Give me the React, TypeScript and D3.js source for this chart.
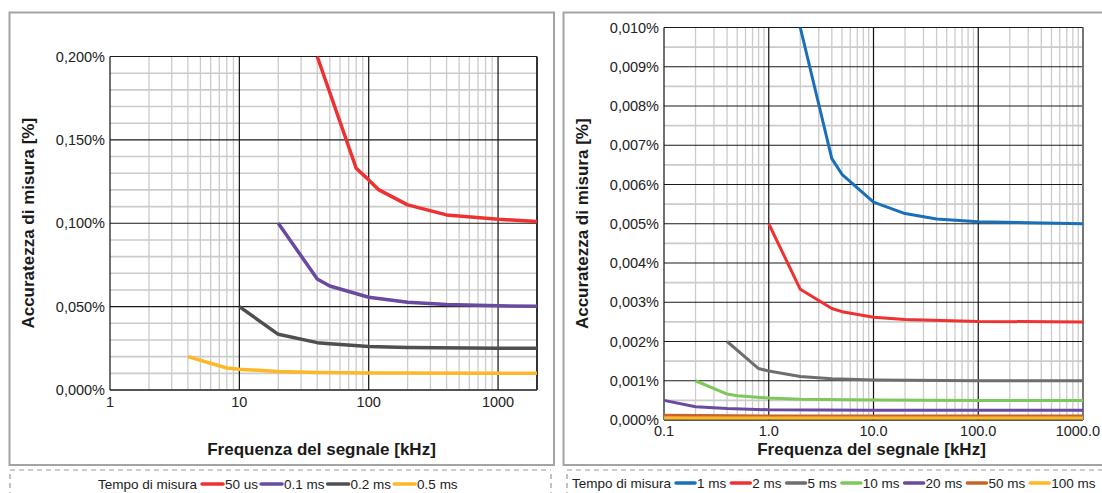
import React, { useEffect, useRef } from "react";
import * as d3 from "d3";

// ---------- DATA ----------
// Left chart: frequency [kHz] and accuracy [%]
const leftTicksX = [1, 10, 100, 1000];
const leftTickLabelsX = ["1", "10", "100", "1000"];
const leftTicksY = [0, 0.05, 0.1, 0.15, 0.2];

const f50us = [40, 80, 100, 120, 200, 400, 1000, 2000];
const v50us = [0.2, 0.133, 0.126, 0.12, 0.111, 0.105, 0.1024, 0.101];
const f01ms = [20, 40, 50, 100, 200, 400, 1000, 2000];
const v01ms = [0.1, 0.0666, 0.0624, 0.0556, 0.0526, 0.0513, 0.0505, 0.0502];
const f02ms = [10, 20, 40, 50, 100, 200, 1000, 2000];
const v02ms = [0.05, 0.0334, 0.0284, 0.0278, 0.0261, 0.0255, 0.0251, 0.025];
const f05ms = [4, 8, 10, 20, 40, 100, 1000, 2000];
const v05ms = [0.02, 0.0132, 0.0125, 0.0111, 0.0105, 0.0102, 0.01, 0.01];

const leftNames = ["50 us", "0.1 ms", "0.2 ms", "0.5 ms"];
const leftColors = ["#ee3131", "#6a4aa0", "#4d4f53", "#fdb827"];

// Right chart
const rightTicksX = [0.1, 1, 10, 100, 1000];
const rightTickLabelsX = ["0.1", "1.0", "10.0", "100.0", "1000.0"];
const rightTicksY = [0, 0.001, 0.002, 0.003, 0.004, 0.005, 0.006, 0.007, 0.008, 0.009, 0.01];

const f1ms = [2, 4, 5, 10, 20, 40, 100, 1000];
const v1ms = [0.01, 0.00666, 0.00626, 0.00555, 0.00526, 0.00512, 0.00505, 0.005];
const f2ms = [1, 2, 4, 5, 10, 20, 100, 1000];
const v2ms = [0.005, 0.00333, 0.00284, 0.00276, 0.00262, 0.00256, 0.00251, 0.0025];
const f5ms = [0.4, 0.8, 1, 2, 4, 10, 100, 1000];
const v5ms = [0.002, 0.00131, 0.00125, 0.00111, 0.00105, 0.00102, 0.001, 0.001];
const f10ms = [0.2, 0.4, 0.5, 1, 2, 10, 100, 1000];
const v10ms = [0.001, 0.00066, 0.00062, 0.00056, 0.00053, 0.00051, 0.0005, 0.0005];
const f20ms = [0.1, 0.2, 0.4, 1, 10, 100, 1000];
const v20ms = [0.0005, 0.00034, 0.00029, 0.00026, 0.00025, 0.00025, 0.00025];
const f50ms = [0.1, 1, 10, 100, 1000];
const v50ms = [0.00012, 0.0001, 0.0001, 0.0001, 0.0001];
const f100ms = [0.1, 1, 10, 100, 1000];
const v100ms = [0.00005, 0.00005, 0.00005, 0.00005, 0.00005];

const rightNames = ["1 ms", "2 ms", "5 ms", "10 ms", "20 ms", "50 ms", "100 ms"];
const rightColors = ["#1a70b8", "#ee3131", "#6d6e71", "#7ec75b", "#6a4aa0", "#c8642b", "#fdb827"];

const legendTitle = "Tempo di misura";
const xTitle = "Frequenza del segnale [kHz]";
const yTitle = "Accuratezza di misura [%]";

const FONT = "'Liberation Sans', Arial, Helvetica, sans-serif";

type Series = { f: number[]; v: number[] };

function drawChart(
  svg: d3.Selection<SVGSVGElement, unknown, null, undefined>,
  opts: {
    panel: [number, number, number, number];
    x0: number; x1: number; y0: number; y1: number;
    xDomain: [number, number]; yMax: number;
    xTicks: number[]; xLabels: string[];
    yTicks: number[]; yMinorStep: number; yFmt: (v: number) => string;
    xLabelY: number; xTitleY: number; yTitleX: number;
    series: Series[]; colors: string[]; lineW: number;
    legend: { names: string[]; x: number; y: number; boxX0: number; boxX1: number; sw: number; gapAfterText: number };
    rightEdgeColor: string;
    maxLabelRight: number;
  }
) {
  const g = svg.append("g");
  const [px0, py0, px1, py1] = opts.panel;
  g.append("rect")
    .attr("x", px0).attr("y", py0).attr("width", px1 - px0).attr("height", py1 - py0)
    .attr("fill", "#fff").attr("stroke", "#a3a3a3").attr("stroke-width", 2);

  const x = d3.scaleLog().domain(opts.xDomain).range([opts.x0, opts.x1]);
  const y = d3.scaleLinear().domain([0, opts.yMax]).range([opts.y0, opts.y1]);

  // minor vertical
  const minorX: number[] = [];
  const lo = Math.round(Math.log10(opts.xDomain[0]));
  const hi = Math.ceil(Math.log10(opts.xDomain[1]));
  for (let e = lo; e <= hi; e++) {
    for (let m = 2; m <= 9; m++) {
      const v = m * Math.pow(10, e);
      if (v > opts.xDomain[0] && v < opts.xDomain[1] * 0.999) minorX.push(v);
    }
  }
  g.selectAll(".mx").data(minorX).enter().append("line")
    .attr("x1", (d) => x(d)).attr("x2", (d) => x(d))
    .attr("y1", opts.y0).attr("y2", opts.y1)
    .attr("stroke", "#cbcbcb").attr("stroke-width", 1.3);

  // minor horizontal
  const minorY: number[] = [];
  const nMinor = Math.round(opts.yMax / opts.yMinorStep);
  for (let i = 1; i < nMinor; i++) {
    const v = i * opts.yMinorStep;
    const isMajor = opts.yTicks.some((t) => Math.abs(t - v) < opts.yMinorStep / 10);
    if (!isMajor) minorY.push(v);
  }
  g.selectAll(".my").data(minorY).enter().append("line")
    .attr("x1", opts.x0).attr("x2", opts.x1)
    .attr("y1", (d) => y(d)).attr("y2", (d) => y(d))
    .attr("stroke", "#cbcbcb").attr("stroke-width", 1.6);

  // major horizontal
  g.selectAll(".My").data(opts.yTicks).enter().append("line")
    .attr("x1", opts.x0).attr("x2", opts.x1)
    .attr("y1", (d) => y(d)).attr("y2", (d) => y(d))
    .attr("stroke", (d) => (d === 0 ? "#555" : "#1a1a1a"))
    .attr("stroke-width", (d) => (d === 0 ? 2 : 1.2));

  // major vertical
  g.selectAll(".Mx").data(opts.xTicks).enter().append("line")
    .attr("x1", (d) => x(d)).attr("x2", (d) => x(d))
    .attr("y1", opts.y0).attr("y2", opts.y1)
    .attr("stroke", "#111").attr("stroke-width", 1.2);

  // right edge
  g.append("line")
    .attr("x1", opts.x1).attr("x2", opts.x1).attr("y1", opts.y0).attr("y2", opts.y1)
    .attr("stroke", opts.rightEdgeColor).attr("stroke-width", 2);

  // y tick labels
  g.selectAll(".yl").data(opts.yTicks).enter().append("text")
    .attr("x", opts.x0 - 5).attr("y", (d) => y(d))
    .attr("dy", "0.36em").attr("text-anchor", "end")
    .attr("font-family", FONT).attr("font-size", 14.5).attr("fill", "#222")
    .text((d) => opts.yFmt(d));

  // x tick labels (kept inside the page on the right)
  g.selectAll(".xl").data(opts.xTicks).enter().append("text")
    .attr("y", opts.xLabelY)
    .attr("dy", "0.36em").attr("text-anchor", "middle")
    .attr("font-family", FONT).attr("font-size", 14.5).attr("fill", "#222")
    .text((d, i) => opts.xLabels[i])
    .each(function (d) {
      const el = this as SVGTextElement;
      const w = el.getComputedTextLength();
      let cx = x(d);
      if (cx + w / 2 > opts.maxLabelRight) cx = opts.maxLabelRight - w / 2;
      d3.select(el).attr("x", cx);
    });

  // titles
  g.append("text")
    .attr("x", (opts.x0 + opts.x1) / 2 - 2).attr("y", opts.xTitleY).attr("dy", "0.36em")
    .attr("text-anchor", "middle").attr("font-family", FONT).attr("font-weight", "bold")
    .attr("font-size", 17).attr("fill", "#1a1a1a").text(xTitle);
  g.append("text")
    .attr("transform", `translate(${opts.yTitleX},${(opts.y0 + opts.y1) / 2}) rotate(-90)`)
    .attr("dy", "0.36em")
    .attr("text-anchor", "middle").attr("font-family", FONT).attr("font-weight", "bold")
    .attr("font-size", 17).attr("fill", "#1a1a1a").text(yTitle);

  // series
  const line = d3.line<[number, number]>().x((d) => x(d[0])).y((d) => y(d[1]));
  opts.series.forEach((s, i) => {
    const pts: [number, number][] = s.f.map((f, j) => [f, s.v[j]]);
    g.append("path").attr("d", line(pts) as string)
      .attr("fill", "none").attr("stroke", opts.colors[i])
      .attr("stroke-width", opts.lineW).attr("stroke-linejoin", "round");
  });

  // legend box (dashed)
  const lg = opts.legend;
  const dash = "5,4";
  g.append("line").attr("x1", lg.boxX0).attr("x2", lg.boxX1).attr("y1", 470).attr("y2", 470)
    .attr("stroke", "#999").attr("stroke-width", 1.2).attr("stroke-dasharray", dash);
  g.append("line").attr("x1", lg.boxX0).attr("x2", lg.boxX0).attr("y1", 474).attr("y2", 500)
    .attr("stroke", "#999").attr("stroke-width", 1.2).attr("stroke-dasharray", dash);
  g.append("line").attr("x1", lg.boxX1).attr("x2", lg.boxX1).attr("y1", 474).attr("y2", 500)
    .attr("stroke", "#999").attr("stroke-width", 1.2).attr("stroke-dasharray", dash);

  let cx = lg.x;
  const t0 = g.append("text").attr("x", cx).attr("y", lg.y).attr("dy", "0.36em")
    .attr("font-family", FONT).attr("font-size", 13.5).attr("fill", "#222").text(legendTitle);
  cx += (t0.node() as SVGTextElement).getComputedTextLength() + 5;
  lg.names.forEach((name, i) => {
    g.append("line").attr("x1", cx).attr("x2", cx + lg.sw).attr("y1", lg.y).attr("y2", lg.y)
      .attr("stroke", opts.colors[i]).attr("stroke-width", 3.5).attr("stroke-linecap", "round");
    cx += lg.sw + 2;
    const t = g.append("text").attr("x", cx).attr("y", lg.y).attr("dy", "0.36em")
      .attr("font-family", FONT).attr("font-size", 13.5).attr("fill", "#222").text(name);
    cx += (t.node() as SVGTextElement).getComputedTextLength() + lg.gapAfterText;
  });
}

export default function App() {
  const ref = useRef<SVGSVGElement>(null);
  useEffect(() => {
    if (!ref.current) return;
    const svg = d3.select(ref.current);
    svg.selectAll("*").remove();

    const commaFmt = (p: string) => (v: number) => d3.format(p)(v).replace(".", ",") + "%";

    drawChart(svg, {
      panel: [9.5, 12.5, 554, 465],
      x0: 110, x1: 537, y0: 390, y1: 56.5,
      xDomain: [1, 2000], yMax: 0.2,
      xTicks: leftTicksX, xLabels: leftTickLabelsX,
      yTicks: leftTicksY, yMinorStep: 0.01, yFmt: commaFmt(".3f"),
      xLabelY: 402, xTitleY: 449, yTitleX: 28,
      series: [
        { f: f50us, v: v50us },
        { f: f01ms, v: v01ms },
        { f: f02ms, v: v02ms },
        { f: f05ms, v: v05ms },
      ],
      colors: leftColors, lineW: 3.5,
      legend: { names: leftNames, x: 98, y: 484, boxX0: 10, boxX1: 551, sw: 21, gapAfterText: 3 },
      rightEdgeColor: "#333",
      maxLabelRight: 1100,
    });

    drawChart(svg, {
      panel: [563.5, 12.5, 1120, 465],
      x0: 664, x1: 1083, y0: 420, y1: 27.5,
      xDomain: [0.1, 1000], yMax: 0.01,
      xTicks: rightTicksX, xLabels: rightTickLabelsX,
      yTicks: rightTicksY, yMinorStep: 0.0005, yFmt: commaFmt(".3f"),
      xLabelY: 431, xTitleY: 449, yTitleX: 582,
      series: [
        { f: f1ms, v: v1ms },
        { f: f2ms, v: v2ms },
        { f: f5ms, v: v5ms },
        { f: f10ms, v: v10ms },
        { f: f20ms, v: v20ms },
        { f: f50ms, v: v50ms },
        { f: f100ms, v: v100ms },
      ],
      colors: rightColors, lineW: 3,
      legend: { names: rightNames, x: 572, y: 483, boxX0: 567, boxX1: 1130, sw: 19, gapAfterText: 5 },
      rightEdgeColor: "#777",
      maxLabelRight: 1100,
    });
  }, []);

  return (
    <svg
      ref={ref}
      width={1102}
      height={493}
      style={{ position: "absolute", left: 0, top: 0, background: "#fff" }}
    />
  );
}
